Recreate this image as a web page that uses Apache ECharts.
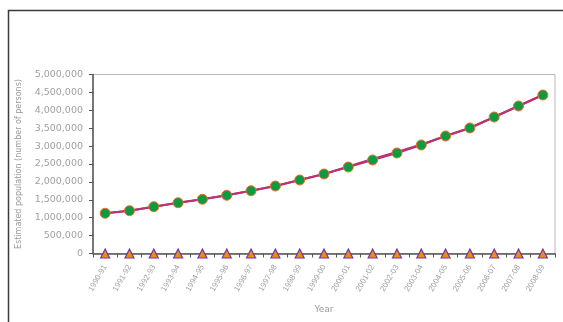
<!DOCTYPE html>
<html>
<head>
<meta charset="utf-8">
<script src="https://cdn.jsdelivr.net/npm/echarts@6/dist/echarts.min.js"></script>
<style>
  html, body { margin: 0; padding: 0; background: #fff; }
  #chart { width: 563px; height: 322px; }
</style>
</head>
<body>
<div id="chart"></div>
<script>
// Financial-year categories along the x axis
const years = ['1990-91', '1991-92', '1992-93', '1993-94', '1994-95', '1995-96', '1996-97', '1997-98', '1998-99', '1999-00',
               '2000-01', '2001-02', '2002-03', '2003-04', '2004-05', '2005-06', '2006-07', '2007-08', '2008-09'];

// Projected totals (marked line)
const projected = [1123000, 1196000, 1307000, 1419000, 1514000, 1626000, 1754000, 1885000, 2053000, 2221000,
                   2416000, 2612000, 2807000, 3031000, 3282000, 3506000, 3813000, 4120000, 4427000];

// Observed totals (plain line, nearly coincident)
const observed = [1123000, 1196000, 1307000, 1419000, 1514000, 1626000, 1754000, 1885000, 2053000, 2221000,
                  2430000, 2640000, 2835000, 3045000, 3282000, 3506000, 3813000, 4120000, 4427000];

// Baseline series sitting on zero
const baseline = [0, 0, 0, 0, 0, 0, 0, 0, 0, 0, 0, 0, 0, 0, 0, 0, 0, 0, 0];

// Value axis settings
const yMax = 5000000;
const yStep = 500000;

const chart = echarts.init(document.getElementById('chart'), null, { renderer: 'canvas' });

chart.setOption({
  animation: false,
  backgroundColor: '#ffffff',
  graphic: [{
    type: 'rect',
    shape: { x: 8.5, y: 10.5, width: 700, height: 500 },
    style: { fill: 'none', stroke: '#3a3a3a', lineWidth: 1.5 },
    silent: true
  }],
  grid: {
    left: 93, right: 8, top: 74.5, bottom: 68.5,
    show: true, borderColor: '#b8b8b8', borderWidth: 1, backgroundColor: 'transparent'
  },
  xAxis: {
    type: 'category',
    data: years,
    boundaryGap: true,
    name: 'Year',
    nameLocation: 'middle',
    nameGap: 52,
    nameTextStyle: { fontSize: 9, color: '#9a9a9a', fontFamily: 'DejaVu Sans' },
    axisLine: { lineStyle: { color: '#555', width: 1.5 } },
    axisTick: { show: true, alignWithLabel: false, length: 4, lineStyle: { color: '#555' } },
    axisLabel: {
      interval: 0, rotate: 60, fontSize: 8, color: '#a0a0a0', margin: 12,
      fontFamily: 'Liberation Sans'
    },
    splitLine: { show: false }
  },
  yAxis: {
    type: 'value',
    min: 0, max: yMax, interval: yStep,
    name: 'Estimated population (number of persons)',
    nameLocation: 'middle',
    nameGap: 70,
    nameRotate: 90,
    nameTextStyle: { fontSize: 8, color: '#9a9a9a', fontFamily: 'DejaVu Sans' },
    axisLine: { show: true, lineStyle: { color: '#555', width: 1.5 } },
    axisTick: { show: true, length: 4, lineStyle: { color: '#555' } },
    axisLabel: {
      fontSize: 9.5, color: '#a0a0a0', margin: 10, fontFamily: 'DejaVu Sans',
      formatter: v => v.toLocaleString('en-US')
    },
    splitLine: { show: false }
  },
  series: [
    {
      name: 'Observed',
      type: 'line',
      data: observed,
      symbol: 'none',
      lineStyle: { color: '#b8336f', width: 2 },
      z: 2
    },
    {
      name: 'Projected',
      type: 'line',
      data: projected,
      symbol: 'circle',
      symbolSize: 10,
      itemStyle: { color: '#0c9a44', borderColor: '#f07020', borderWidth: 1 },
      lineStyle: { color: '#b8336f', width: 2 },
      z: 3
    },
    {
      name: 'Baseline',
      type: 'line',
      data: baseline,
      symbol: 'triangle',
      symbolSize: 9,
      itemStyle: { color: '#f08a10', borderColor: '#6a3aa8', borderWidth: 1.2 },
      lineStyle: { width: 0, opacity: 0 },
      z: 4
    }
  ]
});
</script>
</body>
</html>
